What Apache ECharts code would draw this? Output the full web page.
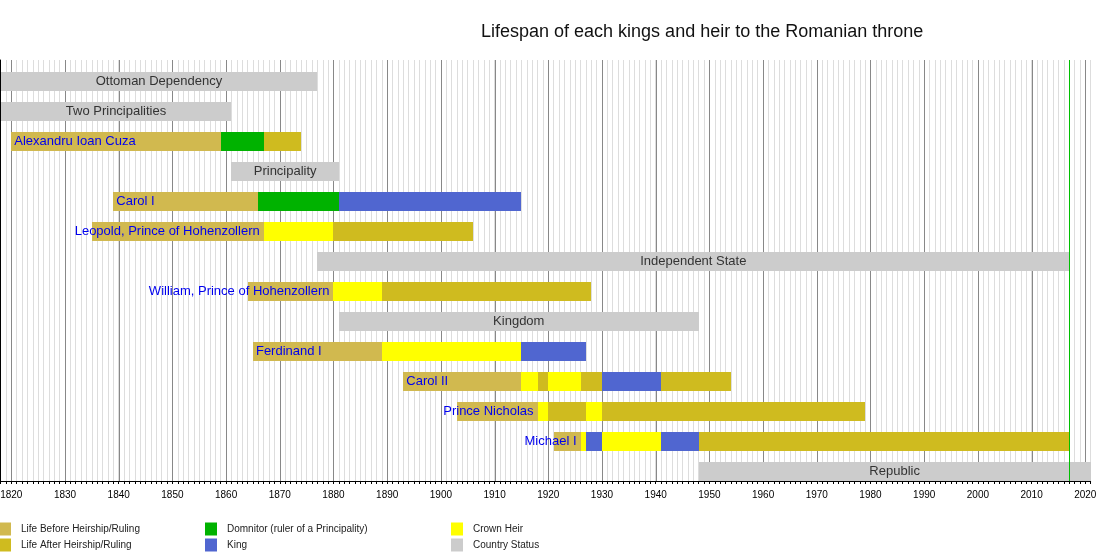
<!DOCTYPE html>
<html>
<head>
<meta charset="utf-8">
<title>Lifespan of each kings and heir to the Romanian throne</title>
<script src="https://cdn.jsdelivr.net/npm/echarts@6/dist/echarts.min.js"></script>
<style>
    html, body {
        margin: 0;
        padding: 0;
        background: #fff;
        overflow: hidden;
    }
    #main {
        width: 1100px;
        height: 560px;
    }
</style>
</head>
<body>
<div id="main"></div>
<script>
    // rows, top to bottom
    var rowLabels = [
        'Ottoman Dependency',
        'Two Principalities',
        'Alexandru Ioan Cuza',
        'Principality',
        'Carol I',
        'Leopold, Prince of Hohenzollern',
        'Independent State',
        'William, Prince of Hohenzollern',
        'Kingdom',
        'Ferdinand I',
        'Carol II',
        'Prince Nicholas',
        'Michael I',
        'Republic'
    ];
    // years where the segments of each row begin / end
    var rowBreaks = [
        [1818, 1877],
        [1818, 1861],
        [1820, 1859, 1867, 1874],
        [1861, 1881],
        [1839, 1866, 1881, 1915],
        [1835, 1867, 1880, 1906],
        [1877, 2017],
        [1864, 1880, 1889, 1928],
        [1881, 1948],
        [1865, 1889, 1915, 1927],
        [1893, 1915, 1918, 1920, 1926, 1930, 1941, 1954],
        [1903, 1918, 1920, 1927, 1930, 1979],
        [1921, 1926, 1927, 1930, 1941, 1948, 2017],
        [1948, 2021]
    ];
    // what each segment is
    var rowKinds = [
        ['status'],
        ['status'],
        ['before', 'dom', 'after'],
        ['status'],
        ['before', 'dom', 'king'],
        ['before', 'heir', 'after'],
        ['status'],
        ['before', 'heir', 'after'],
        ['status'],
        ['before', 'heir', 'king'],
        ['before', 'heir', 'after', 'heir', 'after', 'king', 'after'],
        ['before', 'heir', 'after', 'heir', 'after'],
        ['before', 'heir', 'king', 'heir', 'king', 'after'],
        ['status']
    ];
    var labelAlign = ['center', 'center', 'left', 'center', 'left', 'right', 'center',
        'right', 'center', 'left', 'left', 'right', 'right', 'center'];
    var currentYear = [2017];
    // labelled ticks (darker grid lines)
    var decadeTicks = [1820, 1830, 1840, 1850, 1860, 1870, 1880, 1890, 1900, 1910, 1920,
        1930, 1940, 1950, 1960, 1970, 1980, 1990, 2000, 2010, 2020];

    var kindKeys = ['before', 'after', 'dom', 'king', 'heir', 'status'];
    var kindNames = [
        'Life Before Heirship/Ruling',
        'Life After Heirship/Ruling',
        'Domnitor (ruler of a Principality)',
        'King',
        'Crown Heir',
        'Country Status'
    ];
    var kindColors = ['#d1b94f', '#cfbb1f', '#00b200', '#5066d0', '#ffff00', '#cccccc'];

    var yearMin = 1818, yearMax = 2021;
    var rowMin = -0.7, rowMax = 13.333;

    // segments grouped by kind
    var kindData = {};
    kindKeys.forEach(function (k) { kindData[k] = []; });
    rowBreaks.forEach(function (br, r) {
        rowKinds[r].forEach(function (k, j) {
            kindData[k].push([br[j], br[j + 1], r]);
        });
    });

    // label anchor years
    var labelData = rowBreaks.map(function (br, r) {
        var a = labelAlign[r];
        var yr = a === 'left' ? br[0] : (a === 'right' ? br[1] : (br[0] + br[1]) / 2);
        return [yr, r];
    });

    function barItem(params, api) {
        var a = api.coord([api.value(0), api.value(2)]);
        var b = api.coord([api.value(1), api.value(2)]);
        var h = Math.round(api.size([0, 1])[1] * 0.63);
        var x0 = Math.round(a[0]), x1 = Math.round(b[0]);
        return {
            type: 'rect',
            shape: { x: x0, y: Math.round(a[1] - h / 2), width: x1 - x0, height: h },
            style: { fill: api.visual('color') }
        };
    }

    function labelItem(params, api) {
        var r = api.value(1);
        var p = api.coord([api.value(0), r]);
        var a = labelAlign[r];
        var dx = a === 'left' ? 3 : (a === 'right' ? -4 : 0);
        return {
            type: 'text',
            x: p[0] + dx,
            y: p[1] + 0.5,
            style: {
                text: rowLabels[r],
                fill: a === 'center' ? '#333333' : '#0000ee',
                fontSize: 13,
                fontFamily: 'Liberation Sans, Arial, sans-serif',
                align: a,
                verticalAlign: 'middle'
            }
        };
    }

    // full-height vertical line at a year
    function vLine(color) {
        return function (params, api) {
            var top = api.coord([api.value(0), rowMin]);
            var bottom = api.coord([api.value(0), rowMax]);
            var x = Math.round(top[0]) + 0.5;
            return {
                type: 'line',
                shape: { x1: x, y1: top[1], x2: x, y2: bottom[1] },
                style: { stroke: color, lineWidth: 1 }
            };
        };
    }

    var series = [{
        name: 'decades',
        type: 'custom',
        renderItem: vLine('#888888'),
        encode: { x: 0, y: 1 },
        data: decadeTicks.map(function (y) { return [y, 0]; }),
        silent: true,
        z: 1
    }];
    kindKeys.forEach(function (k, i) {
        series.push({
            name: kindNames[i],
            type: 'custom',
            renderItem: barItem,
            itemStyle: { color: kindColors[i] },
            encode: { x: [0, 1], y: 2 },
            data: kindData[k],
            z: 2
        });
    });
    series.push({
        name: 'labels',
        type: 'custom',
        renderItem: labelItem,
        encode: { x: 0, y: 1 },
        data: labelData,
        clip: false,
        silent: true,
        z: 5
    });
    series.push({
        name: 'now',
        type: 'custom',
        renderItem: vLine('#00c000'),
        encode: { x: 0, y: 1 },
        data: currentYear.map(function (y) { return [y, 0]; }),
        silent: true,
        z: 10
    });

    function legendCol(left, names) {
        return {
            data: names,
            orient: 'vertical',
            left: left,
            top: 522.5,
            padding: 0,
            itemGap: 3,
            itemWidth: 12,
            itemHeight: 13,
            icon: 'rect',
            selectedMode: false,
            textStyle: { fontSize: 10, color: '#222', padding: [0, 0, 0, 5] }
        };
    }

    var myChart = echarts.init(document.getElementById('main'));
    var option = {
        animation: false,
        textStyle: { fontFamily: 'Liberation Sans, Arial, sans-serif' },
        title: {
            text: 'Lifespan of each kings and heir to the Romanian throne',
            left: 481,
            top: 23,
            padding: 0,
            textStyle: { fontSize: 18, fontWeight: 'normal', color: '#111' }
        },
        legend: [
            legendCol(-1, [kindNames[0], kindNames[1]]),
            legendCol(205, [kindNames[2], kindNames[3]]),
            legendCol(451, [kindNames[4], kindNames[5]])
        ],
        grid: {
            left: 0.56,
            top: 60,
            width: 1090.1,
            height: 421,
            containLabel: false,
            outerBoundsMode: 'none'
        },
        xAxis: {
            type: 'value',
            min: yearMin,
            max: yearMax,
            interval: 1,
            axisLine: { onZero: false, lineStyle: { color: '#000' } },
            axisTick: { length: 3, lineStyle: { color: '#000' } },
            axisLabel: {
                color: '#000',
                fontSize: 10,
                margin: 9,
                formatter: function (v) { return v % 10 === 0 ? String(v) : ''; }
            },
            splitLine: { show: true, lineStyle: { color: '#dddddd', width: 1 } }
        },
        yAxis: {
            type: 'value',
            inverse: true,
            min: rowMin,
            max: rowMax,
            axisLine: { show: true, onZero: false, lineStyle: { color: '#000' } },
            axisTick: { show: false },
            axisLabel: { show: false },
            splitLine: { show: false }
        },
        series: series
    };
    myChart.setOption(option);
</script>
</body>
</html>
